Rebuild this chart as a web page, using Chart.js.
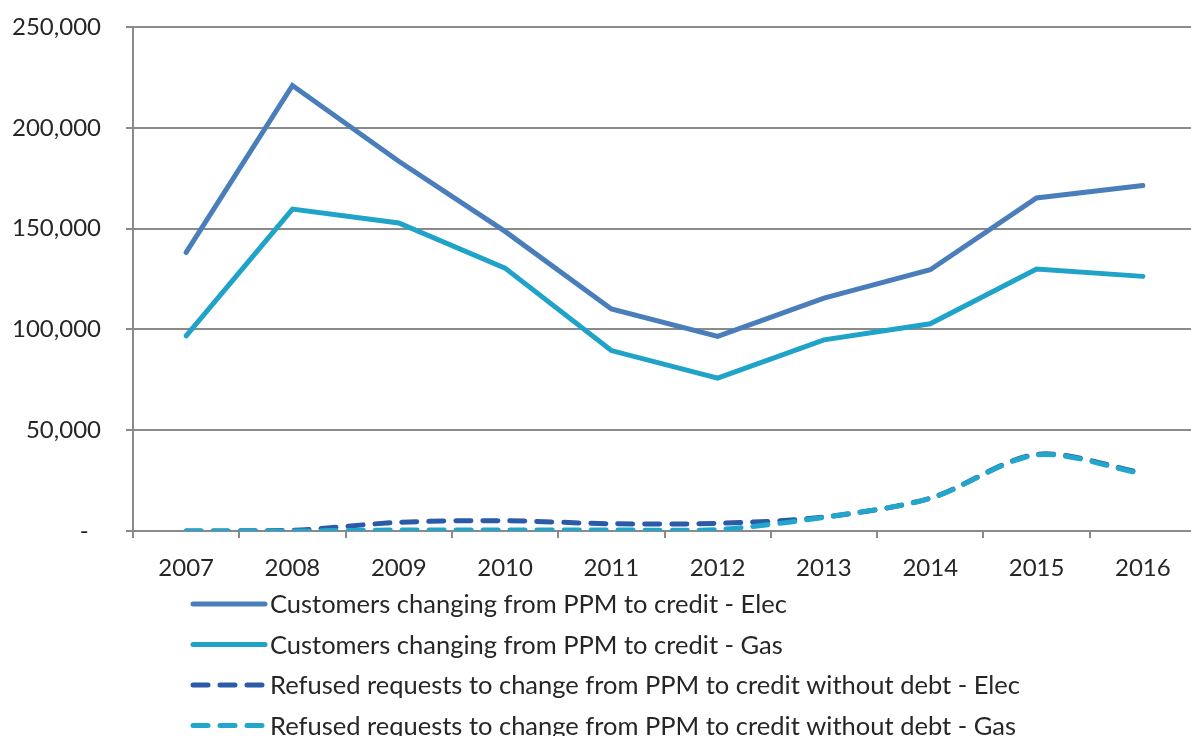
<!DOCTYPE html>
<html>
<head>
<meta charset="utf-8">
<script src="https://cdn.jsdelivr.net/npm/chart.js@4/dist/chart.umd.min.js"></script>
<style>
html,body{margin:0;padding:0;background:#fff;overflow:hidden}
#wrap{width:1200px;height:736px;position:relative}
</style>
</head>
<body>
<div id="wrap"><canvas id="c" width="1200" height="736"></canvas></div>
<script>
const years = ['2007','2008','2009','2010','2011','2012','2013','2014','2015','2016'];
const elecCustomers = [138200, 221000, 183400, 148600, 110100, 96500, 115500, 129600, 165200, 171400];
const gasCustomers  = [96800, 159700, 152800, 130400, 89500, 75800, 94800, 102800, 129900, 126300];
const elecRefused   = [0, 300, 4300, 5100, 3600, 3800, 6900, 16300, 38000, 28800];
const gasRefused    = [0, 0, 500, 500, 500, 700, 6800, 16200, 37700, 28400];
const seriesLabels = [
  'Customers changing from PPM to credit - Elec',
  'Customers changing from PPM to credit - Gas',
  'Refused requests to change from PPM to credit without debt - Elec',
  'Refused requests to change from PPM to credit without debt - Gas'
];
const yMin = 0, yMax = 250000, yStep = 50000;

const FONT = 'Lato, "Open Sans", sans-serif';
const TEXT = '#262626';
const GRID = '#8a8a8a';

const legendPlugin = {
  id: 'vlegend',
  afterDraw(chart) {
    const ctx = chart.ctx;
    ctx.save();
    chart.data.datasets.forEach((ds, i) => {
      const y = 604 + i * 40.5;
      ctx.beginPath();
      ctx.strokeStyle = ds.borderColor;
      ctx.lineWidth = ds.borderWidth;
      ctx.lineCap = 'round';
      ctx.setLineDash(ds.borderDash || []);
      ctx.moveTo(193, y);
      ctx.lineTo(265, y);
      ctx.stroke();
      ctx.setLineDash([]);
      ctx.fillStyle = TEXT;
      ctx.font = '25.5px ' + FONT;
      ctx.textBaseline = 'middle';
      ctx.textAlign = 'left';
      ctx.fillText(ds.label, 270, y + 1);
    });
    ctx.restore();
  }
};

const mk = (label, data, color, dash, order, tension) => ({
  label, data,
  borderColor: color, backgroundColor: color,
  borderWidth: 5, borderDash: dash, borderCapStyle: 'round',
  pointRadius: 0, pointHoverRadius: 0, tension, order, fill: false
});

new Chart(document.getElementById('c'), {
  type: 'line',
  data: {
    labels: years,
    datasets: [
      mk(seriesLabels[0], elecCustomers, '#4a7ebb', [], 4, 0),
      mk(seriesLabels[1], gasCustomers, '#1fa3c8', [], 3, 0),
      mk(seriesLabels[2], elecRefused, '#2a5aa8', [15, 12], 2, 0.3),
      mk(seriesLabels[3], gasRefused, '#22a6cc', [15, 12], 1, 0.3)
    ]
  },
  options: {
    responsive: false,
    devicePixelRatio: 1,
    animation: false,
    layout: { padding: { left: 0, top: 27, right: 4, bottom: 155 } },
    plugins: { legend: { display: false }, tooltip: { enabled: false } },
    scales: {
      x: {
        offset: true,
        grid: { offset: true, drawOnChartArea: false, drawTicks: true, tickLength: 7, color: GRID, lineWidth: 2 },
        border: { display: true, color: GRID, width: 2 },
        ticks: { color: TEXT, font: { family: FONT, size: 24 }, padding: 16, maxRotation: 0, autoSkip: false },
        afterFit(s) { s.height = 50; s.paddingLeft = 0; s.paddingRight = 0; }
      },
      y: {
        min: yMin, max: yMax,
        grid: { color: GRID, lineWidth: 2, drawTicks: true, tickLength: 7 },
        border: { display: true, color: GRID, width: 2 },
        ticks: {
          stepSize: yStep, color: TEXT, font: { family: FONT, size: 24 }, padding: 25,
          callback: v => v === 0 ? '-  ' : v.toLocaleString('en-US')
        },
        afterFit(s) { s.width = 133; s.paddingTop = 0; s.paddingBottom = 0; }
      }
    }
  },
  plugins: [legendPlugin]
});
</script>
</body>
</html>
